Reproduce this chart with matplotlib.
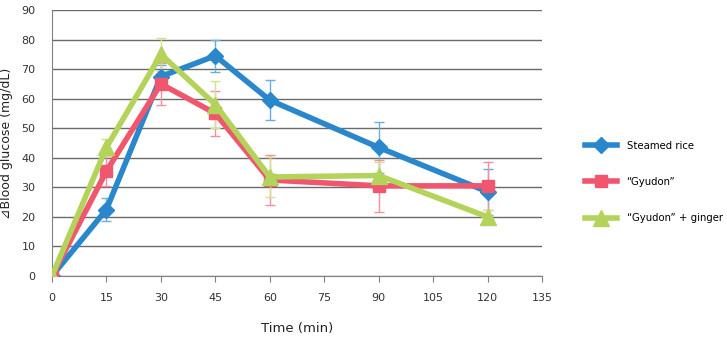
import matplotlib
matplotlib.use("Agg")
import matplotlib.pyplot as plt

time = [0, 15, 30, 45, 60, 90, 120]
rice = [0, 22.5, 67.5, 74.5, 59.5, 43.5, 28.5]
rice_err = [0, 4, 4, 5.5, 6.7, 8.5, 7.8]
gyudon = [0, 35.5, 65, 55, 32.5, 30.5, 30.5]
gyudon_err = [0, 5, 7, 7.7, 8.5, 8.7, 8]
ginger = [0, 43.5, 75, 58, 33.5, 34, 20]
ginger_err = [0, 3, 5.5, 8, 6.7, 4.5, 2.5]
labels = ["Steamed rice", "\u201cGyudon\u201d", "\u201cGyudon\u201d + ginger"]

plt.rcParams['font.family'] = ['DejaVu Sans', 'Noto Sans CJK JP']

fig = plt.figure(figsize=(7.27, 3.44), dpi=100)
ax = fig.add_axes([52/727, 1-276/344, (542-52)/727, (276-10)/344])

colors = ['#2a87cc', '#f0566e', '#b3d35a']
errcolors = ['#6aaee0', '#f58ea0', '#d0e38e']
series = [(rice, rice_err, 'D', 8), (gyudon, gyudon_err, 's', 9), (ginger, ginger_err, '^', 11)]
handles = []
for (vals, err, mk, ms), c, ec, lab in zip(series, colors, errcolors, labels):
    ax.errorbar(time, vals, yerr=err, fmt='none', ecolor=ec, elinewidth=1, capsize=3.8, capthick=1, zorder=2)
    h, = ax.plot(time, vals, color=c, lw=4, marker=mk, ms=ms, mfc=c, mec=c, label=lab, zorder=3)
    handles.append(h)

ax.set_xlim(0, 135)
ax.set_ylim(0, 90)
ax.set_xticks(range(0, 136, 15))
ax.set_yticks(range(0, 91, 10))
ax.yaxis.grid(True, color='#6a6a6a', lw=1)
ax.set_axisbelow(True)
for s in ['top', 'right']:
    ax.spines[s].set_visible(False)
ax.spines['left'].set_color('#808080')
ax.spines['bottom'].set_color('#808080')
ax.tick_params(axis='y', length=0, labelsize=8, colors='#333333', pad=12)
ax.tick_params(axis='x', length=4, color='#808080', labelsize=8, labelcolor='#333333', pad=8)
ax.set_xlabel('Time (min)', fontsize=9.5, color='#222222', labelpad=14)
ax.set_ylabel('\u22bfBlood glucose (mg/dL)', fontsize=9, color='#222222', labelpad=6)

leg = fig.legend(handles=handles, loc='center left', bbox_to_anchor=(585/727, 1-182/344),
                 frameon=False, fontsize=7.3, labelspacing=2.6, handlelength=3.2,
                 handletextpad=0.9, borderaxespad=0, borderpad=0)

fig.savefig('out.png', dpi=100)
